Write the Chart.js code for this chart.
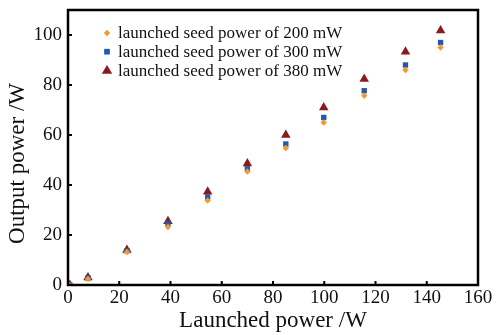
<!DOCTYPE html>
<html>
<head>
<meta charset="utf-8">
<script src="https://cdn.jsdelivr.net/npm/chart.js@4.4.1/dist/chart.umd.min.js"></script>
<style>
  html, body { margin: 0; padding: 0; background: #fff; }
  #wrap { width: 497px; height: 335px; }
</style>
</head>
<body>
<div id="wrap"><canvas id="chart" width="497" height="335"></canvas></div>
<script>
// launched pump power (W)
const launched = [0.7, 7.8, 23, 39, 54.5, 70, 85, 99.8, 115.6, 131.7, 145.4];
const out200 = [0, 2.4, 13.2, 23.2, 33.8, 45.4, 54.8, 65, 75.7, 86, 95];
const out300 = [0, 2.8, 13.7, 24.6, 35.2, 46.5, 56.4, 67, 77.7, 88, 97];
const out380 = [0, 3, 14, 25.5, 37.3, 48.6, 60, 71, 82.4, 93.3, 101.8];
const seriesLabels = ['launched seed power of 200 mW', 'launched seed power of 300 mW', 'launched seed power of 380 mW'];
const xTicks = [0, 20, 40, 60, 80, 100, 120, 140, 160];
const yTicks = [0, 20, 40, 60, 80, 100];
const yTitle = 'Output power /W';

const SERIF = '"Liberation Serif", "DejaVu Serif", serif';
const pts = arr => launched.map((x, i) => ({ x, y: arr[i] }));

// frame + inward ticks + legend inside plot + y title
const framePlugin = {
  id: 'frame',
  afterDatasetsDraw(chart) {
    const { ctx, chartArea: a, scales } = chart;
    ctx.save();
    ctx.strokeStyle = '#000';
    ctx.lineWidth = 2.5;
    ctx.strokeRect(a.left, a.top, a.right - a.left, a.bottom - a.top);
    ctx.lineWidth = 2;
    ctx.beginPath();
    xTicks.forEach(v => {
      const px = scales.x.getPixelForValue(v);
      ctx.moveTo(px, a.bottom); ctx.lineTo(px, a.bottom - 4);
    });
    yTicks.forEach(v => {
      const py = scales.y.getPixelForValue(v);
      ctx.moveTo(a.left, py); ctx.lineTo(a.left + 4, py);
    });
    ctx.stroke();

    // legend
    ctx.font = '17px ' + SERIF;
    ctx.textBaseline = 'middle';
    chart.data.datasets.forEach((ds, i) => {
      const y = a.top + 23 + i * 18.7;
      const x = a.left + 39;
      ctx.fillStyle = ds.backgroundColor;
      const r = ds.pointRadius;
      ctx.beginPath();
      if (ds.pointStyle === 'triangle') {
        ctx.moveTo(x, y - r); ctx.lineTo(x + r * 0.95, y + r * 0.6); ctx.lineTo(x - r * 0.95, y + r * 0.6);
      } else if (ds.pointStyle === 'rect') {
        ctx.rect(x - r * 0.75, y - r * 0.75, r * 1.5, r * 1.5);
      } else {
        ctx.moveTo(x, y - r); ctx.lineTo(x + r, y); ctx.lineTo(x, y + r); ctx.lineTo(x - r, y);
      }
      ctx.fill();
      ctx.fillStyle = '#111';
      ctx.fillText(ds.label, x + 11, y + 1);
    });

    // y axis title, sits a bit below the plot centre in the original
    ctx.translate(18, (a.top + a.bottom) / 2 + 16);
    ctx.rotate(-Math.PI / 2);
    ctx.font = '23px ' + SERIF;
    ctx.textAlign = 'center';
    ctx.fillStyle = '#111';
    ctx.fillText(yTitle, 0, 0);
    ctx.restore();
  }
};

new Chart(document.getElementById('chart'), {
  type: 'scatter',
  data: {
    datasets: [
      { label: seriesLabels[0], data: pts(out200), backgroundColor: '#f39a2e', borderWidth: 0, pointStyle: 'rectRot', pointRadius: 3.2 },
      { label: seriesLabels[1], data: pts(out300), backgroundColor: '#2458a8', borderWidth: 0, pointStyle: 'rect', pointRadius: 3.8 },
      { label: seriesLabels[2], data: pts(out380), backgroundColor: '#8a1a1c', borderWidth: 0, pointStyle: 'triangle', pointRadius: 5.5 }
    ]
  },
  options: {
    responsive: false,
    animation: false,
    layout: { padding: { top: 10, right: 19, left: 0, bottom: 0 } },
    plugins: { legend: { display: false }, tooltip: { enabled: false } },
    scales: {
      x: {
        type: 'linear', min: 0, max: 160,
        afterBuildTicks: s => { s.ticks = xTicks.map(v => ({ value: v })); },
        afterFit: s => { s.height = 50; s.paddingLeft = 0; s.paddingRight = 0; },
        grid: { display: false, drawTicks: false },
        border: { display: false },
        ticks: { color: '#111', padding: 2, font: { family: SERIF, size: 19 } },
        title: { display: true, text: 'Launched power /W', color: '#111', font: { family: SERIF, size: 23 }, padding: { top: 0, bottom: 0 } }
      },
      y: {
        type: 'linear', min: 0, max: 110,
        afterBuildTicks: s => { s.ticks = yTicks.map(v => ({ value: v })); },
        afterFit: s => { s.width = 68; s.paddingTop = 0; s.paddingBottom = 0; },
        grid: { display: false, drawTicks: false },
        border: { display: false },
        ticks: { color: '#111', padding: 6, font: { family: SERIF, size: 19 } }
      }
    }
  },
  plugins: [framePlugin]
});
</script>
</body>
</html>
